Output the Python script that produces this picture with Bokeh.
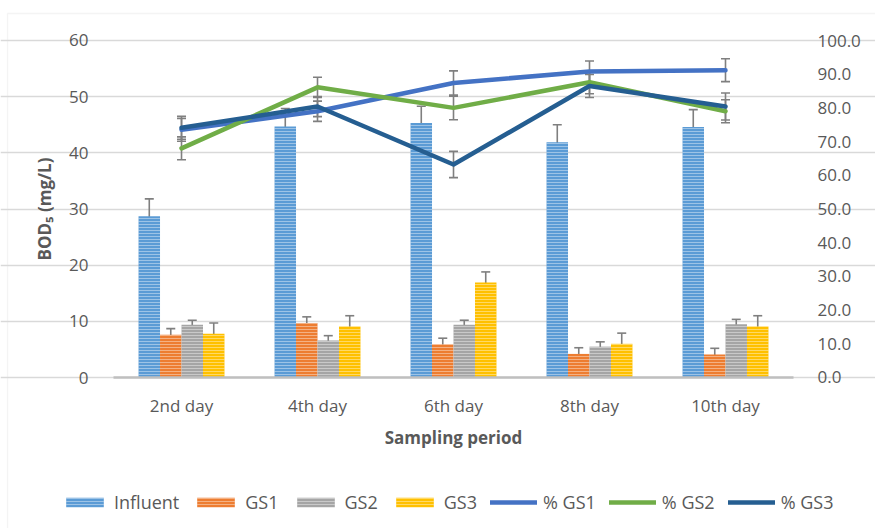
from bokeh.plotting import figure
from bokeh.models import (ColumnDataSource, Range1d, LinearAxis, Whisker, BoxAnnotation,
                          TeeHead, Legend, LegendItem, FixedTicker, NumeralTickFormatter)
from bokeh.transform import dodge
from bokeh.embed import file_html
from bokeh.resources import INLINE

days = ["2nd day", "4th day", "6th day", "8th day", "10th day"]
left_ticks = [0, 10, 20, 30, 40, 50, 60]
right_ticks = [0, 10, 20, 30, 40, 50, 60, 70, 80, 90, 100]

influent = [28.7, 44.7, 45.3, 41.9, 44.6]
influent_err = [3.1, 3.2, 3.0, 3.1, 3.1]
gs1 = [7.6, 9.7, 5.9, 4.2, 4.1]
gs1_err = [1.1, 1.1, 1.1, 1.1, 1.1]
gs2 = [9.4, 6.6, 9.4, 5.5, 9.5]
gs2_err = [0.8, 0.85, 0.8, 0.85, 0.85]
gs3 = [7.8, 9.1, 16.9, 6.0, 9.1]
gs3_err = [1.9, 1.9, 1.9, 1.9, 1.9]

pct_gs1 = [73.5, 79.0, 87.4, 90.8, 91.2]
pct_gs1_err = [3.4, 3.0, 3.6, 3.1, 3.4]
pct_gs2 = [68.0, 86.1, 80.0, 87.6, 79.0]
pct_gs2_err = [3.4, 3.0, 3.5, 3.4, 3.4]
pct_gs3 = [74.1, 80.4, 63.2, 86.5, 80.4]
pct_gs3_err = [3.4, 3.0, 3.9, 3.4, 4.0]

FONT = "Open Sans"
TXT = "#595959"

xi = list(range(len(days)))

# frame fills the whole canvas; the ranges place the plotting area at the reference position
p = figure(width=875, height=528, x_range=Range1d(-1.331, 5.103), y_range=Range1d(-26.88, 67.12),
           output_backend="svg", toolbar_location=None, min_border=0)
p.extra_y_ranges = {"pct": Range1d(-44.81, 111.87)}
p.outline_line_color = None
p.background_fill_color = "white"
p.border_fill_color = "white"

bar_series = [
    ("Influent", influent, influent_err, "#5B9BD5", -0.237),
    ("GS1", gs1, gs1_err, "#ED7D31", -0.079),
    ("GS2", gs2, gs2_err, "#A5A5A5", 0.079),
    ("GS3", gs3, gs3_err, "#FFC000", 0.237),
]

legend_items = []
for name, vals, errs, color, off in bar_series:
    src = ColumnDataSource(dict(x=xi, top=vals,
                                upper=[v + e for v, e in zip(vals, errs)],
                                lower=[v - e for v, e in zip(vals, errs)]))
    r = p.vbar(x=dodge("x", off), top="top", bottom=0, width=0.158, source=src,
               fill_color=color, line_color=None,
               hatch_pattern="horizontal_line", hatch_color="white", hatch_alpha=0.4,
               hatch_scale=3, hatch_weight=1)
    legend_items.append(LegendItem(label=name, renderers=[r]))
    w = Whisker(base=dodge("x", off), upper="upper", lower="lower", source=src,
                line_color="#7F7F7F", line_width=1.6,
                upper_head=TeeHead(size=9, line_color="#7F7F7F", line_width=1.6),
                lower_head=TeeHead(size=9, line_color="#7F7F7F", line_width=1.6))
    p.add_layout(w)

line_series = [
    ("% GS1", pct_gs1, pct_gs1_err, "#4472C4"),
    ("% GS2", pct_gs2, pct_gs2_err, "#70AD47"),
    ("% GS3", pct_gs3, pct_gs3_err, "#255E91"),
]
for name, vals, errs, color in line_series:
    src = ColumnDataSource(dict(x=xi, y=vals,
                                upper=[v + e for v, e in zip(vals, errs)],
                                lower=[v - e for v, e in zip(vals, errs)]))
    r = p.line(x="x", y="y", source=src, y_range_name="pct", line_color=color,
               line_width=4.5, line_cap="round", line_join="round")
    legend_items.append(LegendItem(label=name, renderers=[r]))
    w = Whisker(base="x", upper="upper", lower="lower", source=src, y_range_name="pct",
                line_color="#7F7F7F", line_width=1.6,
                upper_head=TeeHead(size=9, line_color="#7F7F7F", line_width=1.6),
                lower_head=TeeHead(size=9, line_color="#7F7F7F", line_width=1.6))
    p.add_layout(w)

# left axis
yax = p.yaxis[0]
yax.fixed_location = -0.5
yax.bounds = (0, 60)
yax.ticker = FixedTicker(ticks=left_ticks)
yax.axis_line_color = None
yax.major_tick_line_color = None
yax.minor_tick_line_color = None
yax.major_label_text_font = FONT
yax.major_label_text_font_size = "17px"
yax.major_label_text_color = TXT
yax.major_label_standoff = 19
yax.axis_label = "BOD₅ (mg/L)"
yax.axis_label_text_font = FONT
yax.axis_label_text_font_style = "bold"
yax.axis_label_text_font_size = "17px"
yax.axis_label_text_color = TXT
yax.axis_label_standoff = 10

# grid
p.xgrid.grid_line_color = None
p.ygrid.grid_line_color = "#D9D9D9"
p.ygrid.grid_line_width = 1.3
p.ygrid.bounds = (-0.5, 4.5)

# right axis
ra = LinearAxis(y_range_name="pct", ticker=FixedTicker(ticks=right_ticks),
                formatter=NumeralTickFormatter(format="0.0"))
ra.fixed_location = 4.5
ra.bounds = (0, 100)
ra.axis_line_color = None
ra.major_tick_line_color = None
ra.minor_tick_line_color = None
ra.major_label_text_font = FONT
ra.major_label_text_font_size = "17px"
ra.major_label_text_color = TXT
ra.major_label_standoff = 18
p.add_layout(ra, "right")

# x axis
xax = p.xaxis[0]
xax.fixed_location = 0
xax.bounds = (-0.5, 4.5)
xax.ticker = FixedTicker(ticks=xi)
xax.major_label_overrides = {i: d for i, d in zip(xi, days)}
xax.axis_line_color = "#BFBFBF"
xax.axis_line_width = 2.5
xax.major_tick_line_color = None
xax.minor_tick_line_color = None
xax.major_label_text_font = FONT
xax.major_label_text_font_size = "17px"
xax.major_label_text_color = TXT
xax.major_label_standoff = 10
xax.axis_label = "Sampling period"
xax.axis_label_text_font = FONT
xax.axis_label_text_font_style = "bold"
xax.axis_label_text_font_size = "17px"
xax.axis_label_text_color = TXT
xax.axis_label_standoff = 6

# chart-area border (left and top edges visible in the reference)
p.add_layout(BoxAnnotation(left=7, right=900, top=515, bottom=-20,
                           left_units="screen", right_units="screen",
                           top_units="screen", bottom_units="screen",
                           fill_alpha=0, line_color="#D9D9D9", line_width=1.3))

legend = Legend(items=legend_items, orientation="horizontal", location=(61, 14),
                glyph_width=47, glyph_height=12, label_standoff=6, spacing=13,
                padding=0, margin=0, border_line_color=None, background_fill_alpha=0,
                label_text_font=FONT, label_text_font_size="18px", label_text_color=TXT)
p.add_layout(legend, "center")

open("out.html", "w").write(file_html(p, INLINE))
